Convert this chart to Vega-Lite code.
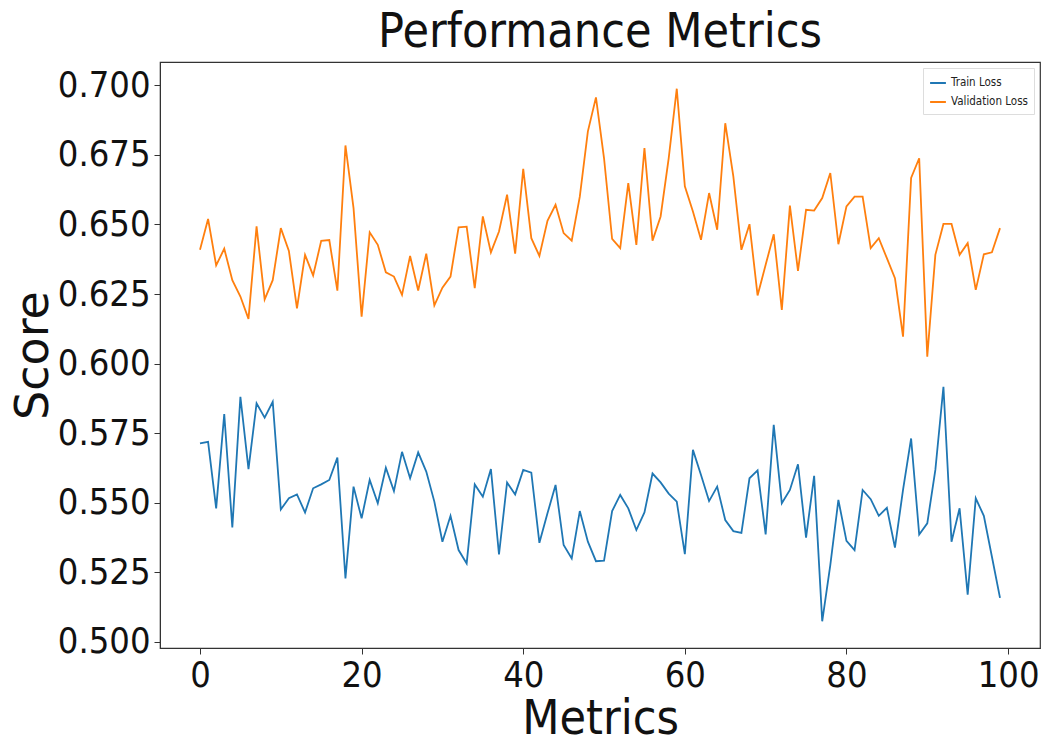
{
  "$schema": "https://vega.github.io/schema/vega-lite/v6.json",
  "width": 880,
  "height": 586,
  "autosize": "none",
  "padding": {"left": 160, "top": 62, "right": 6, "bottom": 101},
  "background": "white",
  "config": {
    "font": "DejaVu Sans Condensed",
    "view": {"stroke": "#333333", "strokeWidth": 1.2}
  },
  "title": {
    "text": "Performance Metrics",
    "fontSize": 48,
    "fontWeight": "normal",
    "color": "#111111",
    "offset": 5,
    "font": "DejaVu Sans Condensed"
  },
  "data": {
    "values": [
      {"i":0,"series":"Train Loss","value":0.5713},{"i":1,"series":"Train Loss","value":0.5719},{"i":2,"series":"Train Loss","value":0.548},{"i":3,"series":"Train Loss","value":0.5819},{"i":4,"series":"Train Loss","value":0.5411},{"i":5,"series":"Train Loss","value":0.5881},{"i":6,"series":"Train Loss","value":0.5621},{"i":7,"series":"Train Loss","value":0.5857},{"i":8,"series":"Train Loss","value":0.5806},{"i":9,"series":"Train Loss","value":0.5863},
      {"i":10,"series":"Train Loss","value":0.5476},{"i":11,"series":"Train Loss","value":0.5516},{"i":12,"series":"Train Loss","value":0.553},{"i":13,"series":"Train Loss","value":0.5465},{"i":14,"series":"Train Loss","value":0.5552},{"i":15,"series":"Train Loss","value":0.5566},{"i":16,"series":"Train Loss","value":0.5582},{"i":17,"series":"Train Loss","value":0.5662},{"i":18,"series":"Train Loss","value":0.5228},{"i":19,"series":"Train Loss","value":0.5558},
      {"i":20,"series":"Train Loss","value":0.5444},{"i":21,"series":"Train Loss","value":0.5582},{"i":22,"series":"Train Loss","value":0.5498},{"i":23,"series":"Train Loss","value":0.5626},{"i":24,"series":"Train Loss","value":0.5542},{"i":25,"series":"Train Loss","value":0.5683},{"i":26,"series":"Train Loss","value":0.5588},{"i":27,"series":"Train Loss","value":0.5681},{"i":28,"series":"Train Loss","value":0.5612},{"i":29,"series":"Train Loss","value":0.5504},
      {"i":30,"series":"Train Loss","value":0.536},{"i":31,"series":"Train Loss","value":0.5453},{"i":32,"series":"Train Loss","value":0.533},{"i":33,"series":"Train Loss","value":0.5282},{"i":34,"series":"Train Loss","value":0.5566},{"i":35,"series":"Train Loss","value":0.5522},{"i":36,"series":"Train Loss","value":0.5621},{"i":37,"series":"Train Loss","value":0.5314},{"i":38,"series":"Train Loss","value":0.5573},{"i":39,"series":"Train Loss","value":0.553},
      {"i":40,"series":"Train Loss","value":0.5618},{"i":41,"series":"Train Loss","value":0.5608},{"i":42,"series":"Train Loss","value":0.5356},{"i":43,"series":"Train Loss","value":0.5462},{"i":44,"series":"Train Loss","value":0.5564},{"i":45,"series":"Train Loss","value":0.5348},{"i":46,"series":"Train Loss","value":0.53},{"i":47,"series":"Train Loss","value":0.547},{"i":48,"series":"Train Loss","value":0.536},{"i":49,"series":"Train Loss","value":0.529},
      {"i":50,"series":"Train Loss","value":0.5292},{"i":51,"series":"Train Loss","value":0.547},{"i":52,"series":"Train Loss","value":0.5528},{"i":53,"series":"Train Loss","value":0.548},{"i":54,"series":"Train Loss","value":0.5402},{"i":55,"series":"Train Loss","value":0.5465},{"i":56,"series":"Train Loss","value":0.5605},{"i":57,"series":"Train Loss","value":0.5573},{"i":58,"series":"Train Loss","value":0.5533},{"i":59,"series":"Train Loss","value":0.5504},
      {"i":60,"series":"Train Loss","value":0.5315},{"i":61,"series":"Train Loss","value":0.569},{"i":62,"series":"Train Loss","value":0.56},{"i":63,"series":"Train Loss","value":0.5506},{"i":64,"series":"Train Loss","value":0.5558},{"i":65,"series":"Train Loss","value":0.5438},{"i":66,"series":"Train Loss","value":0.5398},{"i":67,"series":"Train Loss","value":0.5392},{"i":68,"series":"Train Loss","value":0.5588},{"i":69,"series":"Train Loss","value":0.5616},
      {"i":70,"series":"Train Loss","value":0.5386},{"i":71,"series":"Train Loss","value":0.578},{"i":72,"series":"Train Loss","value":0.5498},{"i":73,"series":"Train Loss","value":0.5546},{"i":74,"series":"Train Loss","value":0.5638},{"i":75,"series":"Train Loss","value":0.5375},{"i":76,"series":"Train Loss","value":0.5597},{"i":77,"series":"Train Loss","value":0.5074},{"i":78,"series":"Train Loss","value":0.5276},{"i":79,"series":"Train Loss","value":0.551},
      {"i":80,"series":"Train Loss","value":0.5363},{"i":81,"series":"Train Loss","value":0.533},{"i":82,"series":"Train Loss","value":0.5546},{"i":83,"series":"Train Loss","value":0.5513},{"i":84,"series":"Train Loss","value":0.5453},{"i":85,"series":"Train Loss","value":0.5482},{"i":86,"series":"Train Loss","value":0.5339},{"i":87,"series":"Train Loss","value":0.5546},{"i":88,"series":"Train Loss","value":0.5731},{"i":89,"series":"Train Loss","value":0.5386},
      {"i":90,"series":"Train Loss","value":0.5426},{"i":91,"series":"Train Loss","value":0.5618},{"i":92,"series":"Train Loss","value":0.5917},{"i":93,"series":"Train Loss","value":0.536},{"i":94,"series":"Train Loss","value":0.548},{"i":95,"series":"Train Loss","value":0.517},{"i":96,"series":"Train Loss","value":0.5516},{"i":97,"series":"Train Loss","value":0.5453},{"i":98,"series":"Train Loss","value":0.5306},{"i":99,"series":"Train Loss","value":0.5158},
      {"i":0,"series":"Validation Loss","value":0.6409},{"i":1,"series":"Validation Loss","value":0.652},{"i":2,"series":"Validation Loss","value":0.6353},{"i":3,"series":"Validation Loss","value":0.6413},{"i":4,"series":"Validation Loss","value":0.630},{"i":5,"series":"Validation Loss","value":0.6241},{"i":6,"series":"Validation Loss","value":0.6161},{"i":7,"series":"Validation Loss","value":0.6493},{"i":8,"series":"Validation Loss","value":0.6231},{"i":9,"series":"Validation Loss","value":0.630},
      {"i":10,"series":"Validation Loss","value":0.6487},{"i":11,"series":"Validation Loss","value":0.6405},{"i":12,"series":"Validation Loss","value":0.6199},{"i":13,"series":"Validation Loss","value":0.6391},{"i":14,"series":"Validation Loss","value":0.6317},{"i":15,"series":"Validation Loss","value":0.6441},{"i":16,"series":"Validation Loss","value":0.6444},{"i":17,"series":"Validation Loss","value":0.6262},{"i":18,"series":"Validation Loss","value":0.6784},{"i":19,"series":"Validation Loss","value":0.6559},
      {"i":20,"series":"Validation Loss","value":0.6169},{"i":21,"series":"Validation Loss","value":0.6472},{"i":22,"series":"Validation Loss","value":0.6427},{"i":23,"series":"Validation Loss","value":0.6328},{"i":24,"series":"Validation Loss","value":0.6313},{"i":25,"series":"Validation Loss","value":0.6247},{"i":26,"series":"Validation Loss","value":0.6387},{"i":27,"series":"Validation Loss","value":0.6263},{"i":28,"series":"Validation Loss","value":0.6395},{"i":29,"series":"Validation Loss","value":0.6209},
      {"i":30,"series":"Validation Loss","value":0.6273},{"i":31,"series":"Validation Loss","value":0.6313},{"i":32,"series":"Validation Loss","value":0.649},{"i":33,"series":"Validation Loss","value":0.6492},{"i":34,"series":"Validation Loss","value":0.6271},{"i":35,"series":"Validation Loss","value":0.6529},{"i":36,"series":"Validation Loss","value":0.640},{"i":37,"series":"Validation Loss","value":0.6475},{"i":38,"series":"Validation Loss","value":0.6607},{"i":39,"series":"Validation Loss","value":0.6395},
      {"i":40,"series":"Validation Loss","value":0.670},{"i":41,"series":"Validation Loss","value":0.6451},{"i":42,"series":"Validation Loss","value":0.6387},{"i":43,"series":"Validation Loss","value":0.6513},{"i":44,"series":"Validation Loss","value":0.6571},{"i":45,"series":"Validation Loss","value":0.6469},{"i":46,"series":"Validation Loss","value":0.6442},{"i":47,"series":"Validation Loss","value":0.660},{"i":48,"series":"Validation Loss","value":0.6835},{"i":49,"series":"Validation Loss","value":0.6957},
      {"i":50,"series":"Validation Loss","value":0.6738},{"i":51,"series":"Validation Loss","value":0.6448},{"i":52,"series":"Validation Loss","value":0.6415},{"i":53,"series":"Validation Loss","value":0.6649},{"i":54,"series":"Validation Loss","value":0.6427},{"i":55,"series":"Validation Loss","value":0.6775},{"i":56,"series":"Validation Loss","value":0.6442},{"i":57,"series":"Validation Loss","value":0.6529},{"i":58,"series":"Validation Loss","value":0.6738},{"i":59,"series":"Validation Loss","value":0.6988},
      {"i":60,"series":"Validation Loss","value":0.6637},{"i":61,"series":"Validation Loss","value":0.6547},{"i":62,"series":"Validation Loss","value":0.6445},{"i":63,"series":"Validation Loss","value":0.6613},{"i":64,"series":"Validation Loss","value":0.6481},{"i":65,"series":"Validation Loss","value":0.6864},{"i":66,"series":"Validation Loss","value":0.6673},{"i":67,"series":"Validation Loss","value":0.6409},{"i":68,"series":"Validation Loss","value":0.6501},{"i":69,"series":"Validation Loss","value":0.6245},
      {"i":70,"series":"Validation Loss","value":0.6355},{"i":71,"series":"Validation Loss","value":0.6465},{"i":72,"series":"Validation Loss","value":0.6193},{"i":73,"series":"Validation Loss","value":0.6568},{"i":74,"series":"Validation Loss","value":0.6333},{"i":75,"series":"Validation Loss","value":0.6553},{"i":76,"series":"Validation Loss","value":0.655},{"i":77,"series":"Validation Loss","value":0.6595},{"i":78,"series":"Validation Loss","value":0.6685},{"i":79,"series":"Validation Loss","value":0.6429},
      {"i":80,"series":"Validation Loss","value":0.6565},{"i":81,"series":"Validation Loss","value":0.660},{"i":82,"series":"Validation Loss","value":0.660},{"i":83,"series":"Validation Loss","value":0.6415},{"i":84,"series":"Validation Loss","value":0.6451},{"i":85,"series":"Validation Loss","value":0.6379},{"i":86,"series":"Validation Loss","value":0.6307},{"i":87,"series":"Validation Loss","value":0.6097},{"i":88,"series":"Validation Loss","value":0.6667},{"i":89,"series":"Validation Loss","value":0.6738},
      {"i":90,"series":"Validation Loss","value":0.6025},{"i":91,"series":"Validation Loss","value":0.6391},{"i":92,"series":"Validation Loss","value":0.6502},{"i":93,"series":"Validation Loss","value":0.6502},{"i":94,"series":"Validation Loss","value":0.6391},{"i":95,"series":"Validation Loss","value":0.6433},{"i":96,"series":"Validation Loss","value":0.6265},{"i":97,"series":"Validation Loss","value":0.6393},{"i":98,"series":"Validation Loss","value":0.640},{"i":99,"series":"Validation Loss","value":0.6487}
    ]
  },
  "mark": {"type": "line", "strokeWidth": 1.8, "clip": true},
  "encoding": {
    "x": {
      "field": "i",
      "type": "quantitative",
      "scale": {"domain": [-4.95, 103.95], "nice": false, "zero": false},
      "axis": {
        "title": "Metrics",
        "values": [0, 20, 40, 60, 80, 100],
        "format": "d",
        "grid": false,
        "labelFontSize": 36,
        "labelColor": "#111111",
        "labelPadding": 4,
        "titleFontSize": 48,
        "titleFontWeight": "normal",
        "titleColor": "#111111",
        "titlePadding": 2,
        "tickSize": 6,
        "tickColor": "#333333",
        "domainColor": "#333333"
      }
    },
    "y": {
      "field": "value",
      "type": "quantitative",
      "scale": {"domain": [0.4978, 0.7084], "nice": false, "zero": false},
      "axis": {
        "title": "Score",
        "values": [0.5, 0.525, 0.55, 0.575, 0.6, 0.625, 0.65, 0.675, 0.7],
        "format": ".3f",
        "grid": false,
        "labelFontSize": 36,
        "labelColor": "#111111",
        "labelPadding": 4,
        "titleFont": "DejaVu Sans",
        "titleFontSize": 46,
        "titleFontWeight": "normal",
        "titleColor": "#111111",
        "titlePadding": 0,
        "tickSize": 6,
        "tickColor": "#333333",
        "domainColor": "#333333"
      }
    },
    "color": {
      "field": "series",
      "type": "nominal",
      "scale": {"domain": ["Train Loss", "Validation Loss"], "range": ["#1f77b4", "#ff7f0e"]},
      "legend": {
        "title": null,
        "orient": "top-right",
        "offset": 6,
        "labelFontSize": 11.5,
        "labelColor": "#222222",
        "symbolType": "stroke",
        "symbolSize": 250,
        "symbolStrokeWidth": 2,
        "strokeColor": "#dddddd",
        "padding": 6,
        "fillColor": "white",
        "rowPadding": 4
      }
    }
  }
}
